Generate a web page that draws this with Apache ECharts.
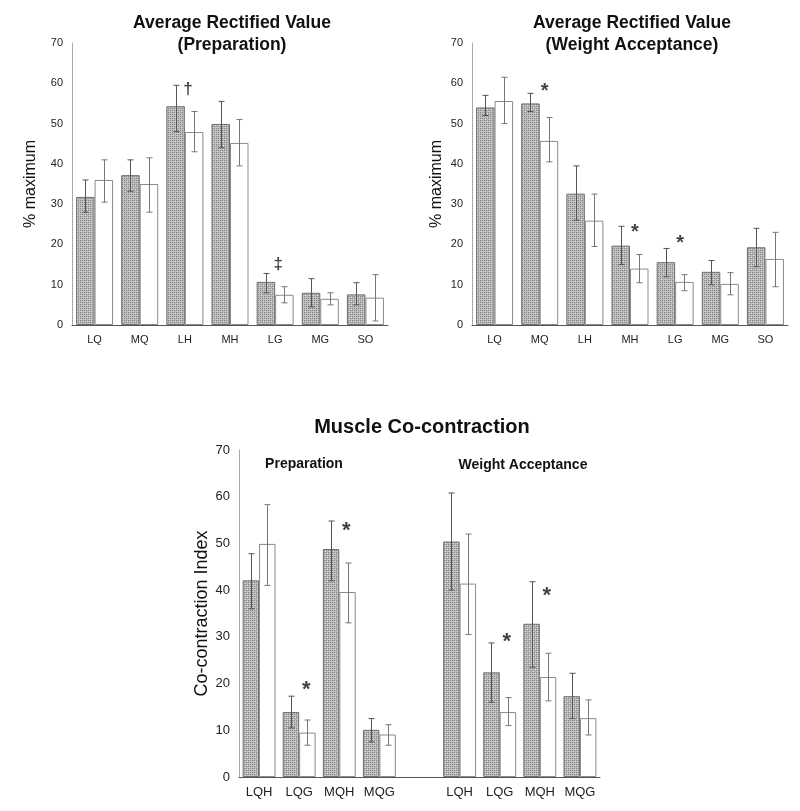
<!DOCTYPE html>
<html><head><meta charset="utf-8">
<script src="https://cdn.jsdelivr.net/npm/echarts@6/dist/echarts.min.js"></script>
<style>html,body{margin:0;padding:0;background:#fff}#c{width:800px;height:811px}</style>
</head><body><div id="c"></div><script>
// ---------- data ----------
const topCats = ['LQ','MQ','LH','MH','LG','MG','SO'];
const prepGrey  = [31.8, 37.2, 54.3, 49.9, 10.7, 8.0, 7.6];
const prepWhite = [36.0, 35.0, 47.9, 45.2, 7.5, 6.5, 6.8];
const prepGreyErr  = [[28,36],[33.2,41],[48,59.5],[44,55.5],[8,12.8],[4.5,11.5],[5,10.5]];
const prepWhiteErr = [[30.5,41],[28,41.5],[43,53],[39.5,51],[5.5,9.5],[5,8],[1,12.5]];
const prepMarkCat = [2, 4];
const prepMarkY = [58.5, 15];
const prepMarkText = ['†', '‡'];

const waGrey  = [54.0, 55.0, 32.6, 19.7, 15.6, 13.2, 19.3];
const waWhite = [55.6, 45.7, 25.9, 14.0, 10.7, 10.2, 16.4];
const waGreyErr  = [[52,57],[53,57.5],[26,39.5],[15,24.5],[12,19],[10,16],[14.5,24]];
const waWhiteErr = [[50,61.5],[40.5,51.5],[19.5,32.5],[10.5,17.5],[8.5,12.5],[7.5,13],[9.5,23]];
const waMarkCat = [1, 3, 4];
const waMarkY = [59, 24, 21.3];
const waMarkText = ['*', '*', '*'];

const coCats = ['LQH','LQG','MQH','MQG','','LQH','LQG','MQH','MQG'];
const coGrey  = [42.1, 13.9, 48.8, 10.1, '-', 50.4, 22.4, 32.8, 17.3];
const coWhite = [49.9, 9.5, 39.6, 9.1, '-', 41.4, 13.9, 21.4, 12.6];
const coGreyErr  = [[36,47.8],[10.5,17.3],[42,54.8],[7.5,12.5],null,[40,60.8],[16,28.7],[23.5,41.8],[12.5,22.2]];
const coWhiteErr = [[41,58.3],[6.8,12.2],[33,45.8],[6.8,11.2],null,[30.5,52],[11,17],[16.3,26.5],[9,16.5]];
const coMarkCat = [1, 2, 6, 7];
const coMarkY = [19.7, 53.7, 30, 39.8];
const coMarkText = ['*', '*', '*', '*'];

const yTicks = [0,10,20,30,40,50,60,70];

// ---------- styling helpers ----------
const FONT = '"Liberation Sans", Arial, sans-serif';
function makePattern() {
  const c = document.createElement('canvas');
  c.width = 4; c.height = 4;
  const g = c.getContext('2d');
  g.fillStyle = '#bababa'; g.fillRect(0,0,4,4);
  g.fillStyle = '#888888';
  g.fillRect(0,0,1,1); g.fillRect(2,2,1,1); g.fillRect(2,0,1,1); g.fillRect(0,2,1,1);
  g.fillStyle = '#d8d8d8';
  g.fillRect(1,3,1,1); g.fillRect(3,1,1,1);
  return c;
}
const greyFill = { image: makePattern(), repeat: 'repeat' };
const BARW = 0.41;

function barSeries(idx, data, grey) {
  return {
    type: 'bar', xAxisIndex: idx, yAxisIndex: idx, data: data,
    barWidth: (BARW*100)+'%', barGap: '0%',
    itemStyle: grey ? { color: greyFill, borderColor: '#6e6e6e', borderWidth: 1 }
                    : { color: '#ffffff', borderColor: '#8a8a8a', borderWidth: 1 },
    silent: true, z: 2
  };
}
function errSeries(idx, errs, side, color) {
  const d = [];
  errs.forEach((e, i) => { if (e) d.push([i, e[0], e[1]]); });
  return {
    type: 'custom', xAxisIndex: idx, yAxisIndex: idx, data: d, z: 5, silent: true,
    renderItem: (params, api) => {
      const i = api.value(0);
      const lo = api.coord([i, api.value(1)]);
      const hi = api.coord([i, api.value(2)]);
      const band = api.size([1, 0])[0];
      const x = Math.round(lo[0] + side * band * BARW / 2) + 0.5;
      const cw = 3;
      const st = { stroke: color, lineWidth: 1 };
      return { type: 'group', children: [
        { type: 'line', shape: { x1: x, y1: lo[1], x2: x, y2: hi[1] }, style: st },
        { type: 'line', shape: { x1: x-cw, y1: hi[1], x2: x+cw, y2: hi[1] }, style: st },
        { type: 'line', shape: { x1: x-cw, y1: lo[1], x2: x+cw, y2: lo[1] }, style: st }
      ]};
    }
  };
}
function markSeries(idx, cats, ys, texts, fs, dx, dy) {
  return {
    type: 'scatter', xAxisIndex: idx, yAxisIndex: idx, symbolSize: 0, z: 6, silent: true,
    data: cats.map((c, i) => ({ value: [c, ys[i]], t: texts[i] })),
    label: { show: true, position: 'inside', offset: [dx, dy], color: '#111', fontFamily: FONT,
      fontWeight: 'bold', fontSize: fs, formatter: p => p.data.t }
  };
}
function xAx(idx, cats, fs) {
  return { type: 'category', gridIndex: idx, data: cats,
    axisLine: { lineStyle: { color: '#555', width: 1 } }, axisTick: { show: false },
    axisLabel: { color: '#222', fontSize: fs, fontFamily: FONT, margin: 9, interval: 0 } };
}
function yAx(idx, name, fs, nfs, gap) {
  return { type: 'value', gridIndex: idx, min: yTicks[0], max: yTicks[yTicks.length-1], interval: 10,
    name: name, nameLocation: 'middle', nameGap: gap, nameRotate: 90,
    nameTextStyle: { color: '#111', fontSize: nfs, fontFamily: FONT },
    axisLine: { show: true, lineStyle: { color: '#aaa', width: 1 } }, axisTick: { show: false },
    splitLine: { show: false },
    axisLabel: { color: '#222', fontSize: fs, fontFamily: FONT, margin: 9 } };
}
function txt(x, y, s, fs, bold) {
  return { type: 'text', x: x, y: y, silent: true,
    style: { text: s, fill: '#111', font: (bold ? 'bold ' : '') + fs + 'px ' + FONT,
      textAlign: 'center', textVerticalAlign: 'middle' } };
}

const chart = echarts.init(document.getElementById('c'));
chart.setOption({
  animation: false,
  backgroundColor: '#fff',
  grid: [
    { left: 72, top: 43, width: 316, height: 282 },
    { left: 472, top: 43, width: 316, height: 282 },
    { left: 239, top: 450, width: 361, height: 327 }
  ],
  xAxis: [xAx(0, topCats, 11), xAx(1, topCats, 11), xAx(2, coCats, 13)],
  yAxis: [yAx(0, '% maximum', 11, 16, 33), yAx(1, '% maximum', 11, 16, 27), yAx(2, 'Co-contraction Index', 13, 18, 28)],
  series: [
    barSeries(0, prepGrey, true), barSeries(0, prepWhite, false),
    errSeries(0, prepGreyErr, -1, '#555'), errSeries(0, prepWhiteErr, 1, '#777'),
    markSeries(0, prepMarkCat, prepMarkY, prepMarkText, 17, 3, 0),
    barSeries(1, waGrey, true), barSeries(1, waWhite, false),
    errSeries(1, waGreyErr, -1, '#555'), errSeries(1, waWhiteErr, 1, '#777'),
    markSeries(1, waMarkCat, waMarkY, waMarkText, 20, 5, 4),
    barSeries(2, coGrey, true), barSeries(2, coWhite, false),
    errSeries(2, coGreyErr, -1, '#555'), errSeries(2, coWhiteErr, 1, '#777'),
    markSeries(2, coMarkCat, coMarkY, coMarkText, 22, 7, 5)
  ],
  graphic: [
    txt(232, 23, 'Average Rectified Value', 17.5, true),
    txt(232, 45, '(Preparation)', 17.5, true),
    txt(632, 23, 'Average Rectified Value', 17.5, true),
    txt(632, 45, '(Weight Acceptance)', 17.5, true),
    txt(422, 427, 'Muscle Co-contraction', 20, true),
    txt(304, 464, 'Preparation', 14, true),
    txt(523, 465, 'Weight Acceptance', 14, true)
  ]
});
</script></body></html>
